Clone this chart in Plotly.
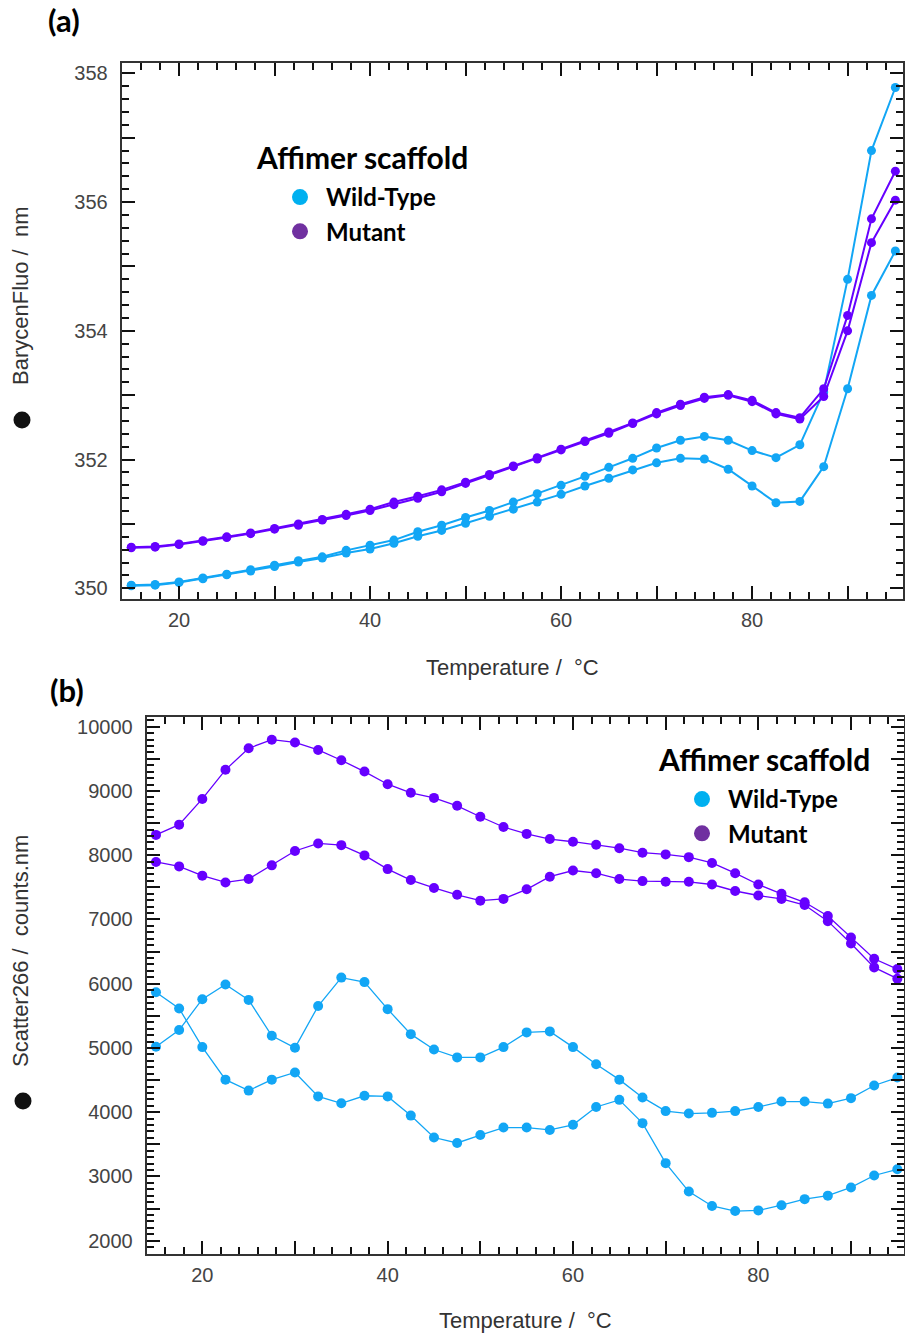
import plotly.graph_objects as go

# ---------------- data ----------------
temperature = [15, 17.5, 20, 22.5, 25, 27.5, 30, 32.5, 35, 37.5, 40, 42.5, 45, 47.5, 50,
               52.5, 55, 57.5, 60, 62.5, 65, 67.5, 70, 72.5, 75, 77.5, 80, 82.5, 85, 87.5,
               90, 92.5, 95]

bary_wt_1 = [350.05, 350.06, 350.10, 350.16, 350.22, 350.29, 350.36, 350.43, 350.49, 350.59,
             350.67, 350.75, 350.88, 350.98, 351.10, 351.21, 351.34, 351.47, 351.60, 351.74,
             351.88, 352.02, 352.18, 352.30, 352.36, 352.30, 352.14, 352.03, 352.23, 353.05,
             354.80, 356.80, 357.78]
bary_wt_2 = [350.04, 350.05, 350.09, 350.15, 350.21, 350.27, 350.34, 350.41, 350.47, 350.55,
             350.61, 350.70, 350.81, 350.90, 351.01, 351.12, 351.23, 351.34, 351.46, 351.59,
             351.71, 351.84, 351.95, 352.02, 352.01, 351.85, 351.59, 351.33, 351.35, 351.89,
             353.10, 354.55, 355.24]
bary_mut_1 = [350.64, 350.65, 350.69, 350.74, 350.80, 350.86, 350.93, 351.00, 351.07, 351.15,
              351.23, 351.34, 351.43, 351.53, 351.65, 351.77, 351.90, 352.03, 352.16, 352.29,
              352.43, 352.57, 352.73, 352.86, 352.97, 353.01, 352.92, 352.73, 352.65, 353.10,
              354.24, 355.74, 356.48]
bary_mut_2 = [350.63, 350.64, 350.68, 350.73, 350.79, 350.85, 350.92, 350.98, 351.06, 351.13,
              351.21, 351.30, 351.40, 351.50, 351.63, 351.75, 351.89, 352.01, 352.15, 352.28,
              352.41, 352.56, 352.71, 352.84, 352.95, 353.00, 352.90, 352.71, 352.63, 352.98,
              354.00, 355.37, 356.03]

scat_wt_1 = [5018, 5279, 5759, 5988, 5748, 5189, 5002, 5652, 6095, 6025, 5604, 5215, 4976,
             4853, 4853, 5013, 5242, 5258, 5013, 4747, 4507, 4230, 4017, 3979, 3990, 4017,
             4081, 4166, 4166, 4134, 4219, 4416, 4539]
scat_wt_2 = [5866, 5615, 5013, 4507, 4336, 4507, 4619, 4246, 4139, 4256, 4246, 3947, 3606,
             3521, 3644, 3761, 3761, 3724, 3804, 4081, 4192, 3830, 3207, 2765, 2541, 2461,
             2472, 2552, 2647, 2701, 2829, 3015, 3111]
scat_mut_1 = [8316, 8476, 8876, 9329, 9664, 9798, 9755, 9638, 9478, 9302, 9105, 8972, 8892,
              8769, 8599, 8439, 8332, 8252, 8210, 8162, 8109, 8039, 8013, 7970, 7879, 7720,
              7544, 7400, 7267, 7054, 6718, 6388, 6228]
scat_mut_2 = [7895, 7826, 7682, 7576, 7629, 7842, 8066, 8183, 8157, 7997, 7784, 7613, 7490,
              7384, 7293, 7320, 7469, 7666, 7762, 7720, 7629, 7597, 7586, 7586, 7544, 7443,
              7373, 7320, 7224, 6974, 6627, 6254, 6078]

# tick positions / labels (labels only on every other major tick)
x_tickvals = [20, 30, 40, 50, 60, 70, 80, 90]
x_ticktext = ["20", "", "40", "", "60", "", "80", ""]
ya_tickvals = [350, 351, 352, 353, 354, 355, 356, 357, 358]
ya_ticktext = ["350", "", "352", "", "354", "", "356", "", "358"]
yb_tickvals = [2000, 2500, 3000, 3500, 4000, 4500, 5000, 5500, 6000, 6500, 7000, 7500,
               8000, 8500, 9000, 9500, 10000]
yb_ticktext = ["2000", "", "3000", "", "4000", "", "5000", "", "6000", "", "7000", "",
               "8000", "", "9000", "", "10000"]

legend_title = "Affimer scaffold"
legend_names = ["Wild-Type", "Mutant"]
legend_colors = ["#00B0F0", "#7030A0"]

NB = "\u00a0"
x_title = "Temperature /" + NB * 2 + "°C"
ya_title = "BarycenFluo /" + NB * 2 + "nm"
yb_title = "Scatter266 /" + NB * 2 + "counts.nm"

WT_COLOR = "#12A6F5"
MUT_COLOR = "#6600FF"
TICK_COLOR = "#111111"

W, H = 905, 1333
SANS = "Liberation Sans, Arial, sans-serif"
TICK_FONT = dict(family=SANS, size=20, color="#444444")
TITLE_FONT = dict(family=SANS, size=22, color="#333333")
LEG_FONT = "Lato, Open Sans, sans-serif"

fig = go.Figure()

for ys, col in [(bary_wt_1, WT_COLOR), (bary_wt_2, WT_COLOR),
                (bary_mut_1, MUT_COLOR), (bary_mut_2, MUT_COLOR)]:
    fig.add_trace(go.Scatter(x=temperature, y=ys, mode="lines+markers",
                             line=dict(color=col, width=2),
                             marker=dict(color=col, size=9),
                             showlegend=False, xaxis="x", yaxis="y"))
for ys, col in [(scat_wt_1, WT_COLOR), (scat_wt_2, WT_COLOR),
                (scat_mut_1, MUT_COLOR), (scat_mut_2, MUT_COLOR)]:
    fig.add_trace(go.Scatter(x=temperature, y=ys, mode="lines+markers",
                             line=dict(color=col, width=1.3),
                             marker=dict(color=col, size=10),
                             showlegend=False, xaxis="x2", yaxis="y2"))

for leg in ["legend", "legend2"]:
    for name, col in zip(legend_names, legend_colors):
        fig.add_trace(go.Scatter(x=[None], y=[None], mode="markers", name=name,
                                 marker=dict(color=col, size=16),
                                 legend=leg, xaxis="x" if leg == "legend" else "x2",
                                 yaxis="y" if leg == "legend" else "y2"))

def frame_axis(domain, rng, tickvals, ticktext, minor_dtick, anchor, title=None,
               standoff=None, lab_standoff=2):
    ax = dict(domain=domain, range=rng, anchor=anchor,
              tickmode="array", tickvals=tickvals, ticktext=ticktext,
              ticks="inside", ticklen=13, tickwidth=1.8, tickcolor=TICK_COLOR,
              showline=True, linewidth=2, linecolor="#333333", mirror="allticks",
              showgrid=False, zeroline=False, tickfont=TICK_FONT,
              ticklabelstandoff=lab_standoff,
              minor=dict(tickmode="linear", dtick=minor_dtick, tick0=0, ticks="inside",
                         ticklen=7, tickwidth=1.6, tickcolor=TICK_COLOR, showgrid=False))
    if title is not None:
        ax["title"] = dict(text=title, font=TITLE_FONT, standoff=standoff)
    return ax

xa_dom = [121.7 / W, 903 / W]
ya_dom = [1 - 599.3 / H, 1 - 62.7 / H]
xb_dom = [146.7 / W, 904 / W]
yb_dom = [1 - 1254 / H, 1 - 716.7 / H]

xa_rng = [14, 95.8]
ya_rng = [349.83, 358.165]
xb_rng = [14, 95.72]
yb_rng = [1793, 10156]

leg_common = dict(xanchor="left", yanchor="top", bgcolor="rgba(0,0,0,0)",
                  font=dict(family=LEG_FONT, size=24, color="#000", weight="bold"),
                  itemsizing="trace", indentation=22, itemwidth=42, tracegroupgap=0)

def bullet(cx, cy, r=8.5):
    return dict(type="circle", xref="paper", yref="paper",
                x0=(cx - r) / W, x1=(cx + r) / W, y0=1 - (cy + r) / H, y1=1 - (cy - r) / H,
                fillcolor="#111111", line=dict(width=0))

fig.update_layout(
    width=W, height=H, margin=dict(l=0, r=0, t=0, b=0),
    paper_bgcolor="white", plot_bgcolor="white",
    xaxis=frame_axis(xa_dom, xa_rng, x_tickvals, x_ticktext, 2, "y", x_title, 29),
    yaxis=frame_axis(ya_dom, ya_rng, ya_tickvals, ya_ticktext, 0.2, "x", lab_standoff=8),
    xaxis2=frame_axis(xb_dom, xb_rng, x_tickvals, x_ticktext, 2, "y2", x_title, 28),
    yaxis2=frame_axis(yb_dom, yb_rng, yb_tickvals, yb_ticktext, 100, "x2", lab_standoff=8),
    legend=dict(x=252 / W, y=1 - 175 / H, **leg_common),
    legend2=dict(x=654 / W, y=1 - 777 / H, **leg_common),
    shapes=[bullet(22, 420), bullet(23, 1101)],
    annotations=[
        # y-axis titles
        dict(text=ya_title, textangle=-90, x=20 / W, y=1 - 296 / H, xref="paper",
             yref="paper", xanchor="center", yanchor="middle", showarrow=False,
             font=TITLE_FONT),
        dict(text=yb_title, textangle=-90, x=20 / W, y=1 - 951 / H, xref="paper",
             yref="paper", xanchor="center", yanchor="middle", showarrow=False,
             font=TITLE_FONT),
        # legend titles
        dict(text="<b>" + legend_title + "</b>", x=254 / W, y=1 - 157 / H,
             xref="paper", yref="paper", xanchor="left", yanchor="middle",
             showarrow=False, font=dict(family=LEG_FONT, size=30, color="#000")),
        dict(text="<b>" + legend_title + "</b>", x=656 / W, y=1 - 759 / H,
             xref="paper", yref="paper", xanchor="left", yanchor="middle",
             showarrow=False, font=dict(family=LEG_FONT, size=30, color="#000")),
        # panel labels
        dict(text="<b>(a)</b>", x=46 / W, y=1 - 20 / H, xref="paper", yref="paper",
             xanchor="left", yanchor="middle", showarrow=False,
             font=dict(family=LEG_FONT, size=31, color="#000")),
        dict(text="<b>(b)</b>", x=48 / W, y=1 - 690 / H, xref="paper", yref="paper",
             xanchor="left", yanchor="middle", showarrow=False,
             font=dict(family=LEG_FONT, size=31, color="#000")),
    ],
)

fig.write_html("out.html", config={"displayModeBar": False},
               post_script="document.body.style.margin='0px';")
